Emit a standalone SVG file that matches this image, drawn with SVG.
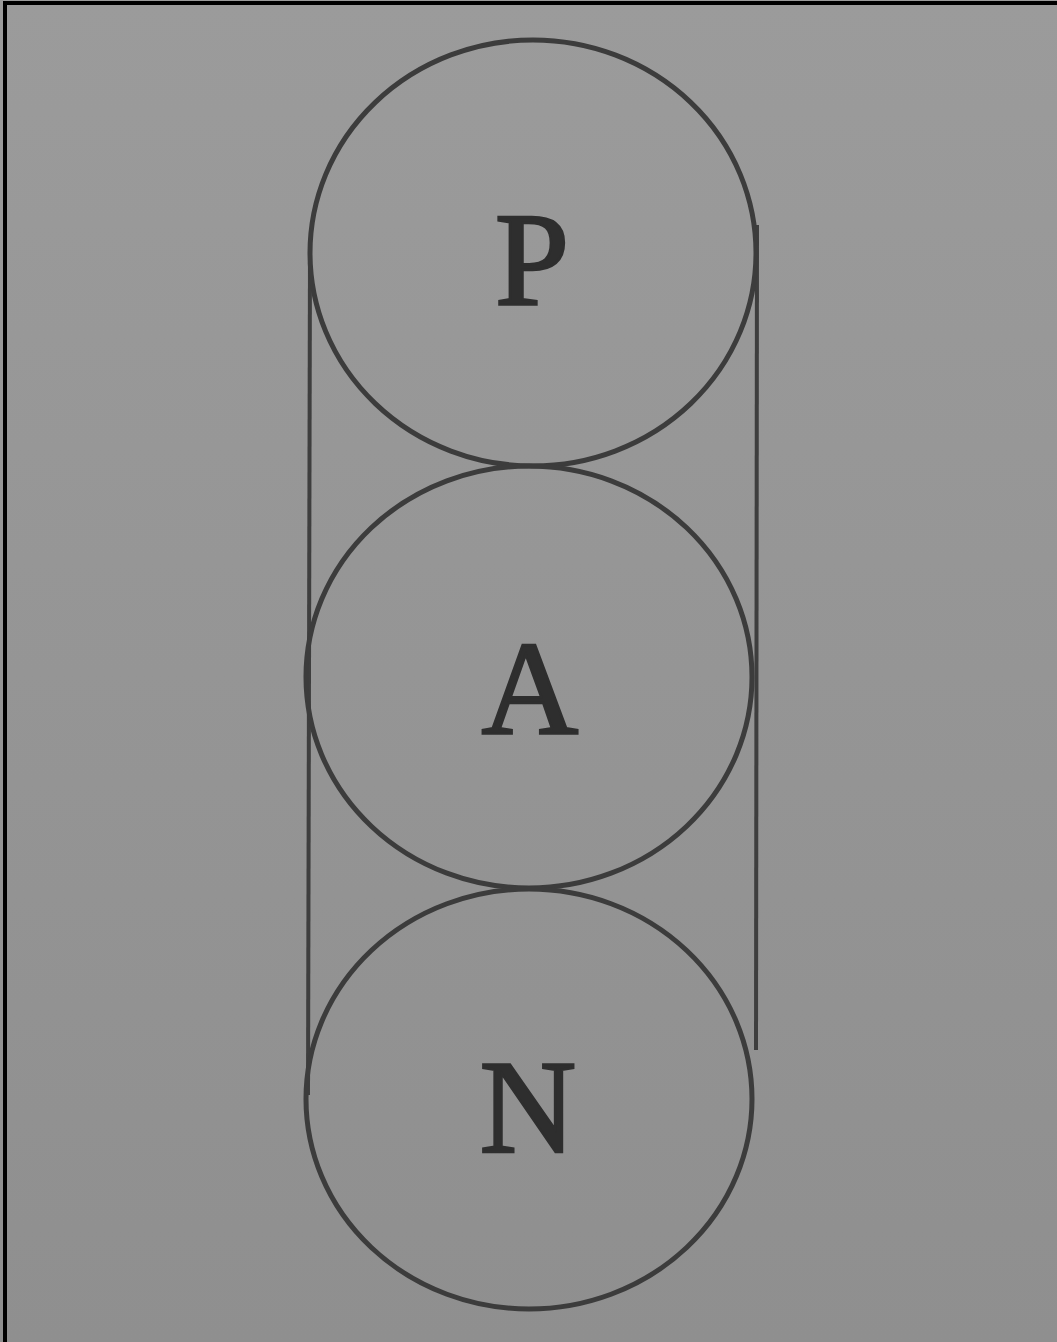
<svg xmlns="http://www.w3.org/2000/svg" width="1057" height="1342" viewBox="0 0 1057 1342">
<defs>
<linearGradient id="bg" x1="0" y1="0" x2="0" y2="1">
<stop offset="0" stop-color="#9b9b9b"/>
<stop offset="1" stop-color="#8f8f8f"/>
</linearGradient>
<style>
.c{fill:none;stroke:#3c3c3c;stroke-width:5}
.l{stroke:#3e3e3e;stroke-width:4;fill:none}
.t{font-family:"Liberation Serif","DejaVu Serif",serif;font-size:134px;fill:#2e2e2e;stroke:#2e2e2e;stroke-width:2.5;text-anchor:middle}
</style>
</defs>
<rect x="0" y="0" width="1057" height="1342" fill="url(#bg)"/>
<path d="M5 1342 V3 H1057" fill="none" stroke="#000" stroke-width="4"/>
<g id="connectors">
<line class="l" x1="310" y1="250" x2="308" y2="1095"/>
<line class="l" x1="757" y1="225" x2="756" y2="1050"/>
</g>
<g id="P"><ellipse class="c" cx="533" cy="253" rx="223" ry="213"/><text class="t" x="532" y="304">P</text></g>
<g id="A"><ellipse class="c" cx="529" cy="677" rx="223" ry="211"/><text class="t" x="530" y="733">A</text></g>
<g id="N"><ellipse class="c" cx="529" cy="1099" rx="223" ry="210"/><text class="t" x="528" y="1152">N</text></g>
</svg>
